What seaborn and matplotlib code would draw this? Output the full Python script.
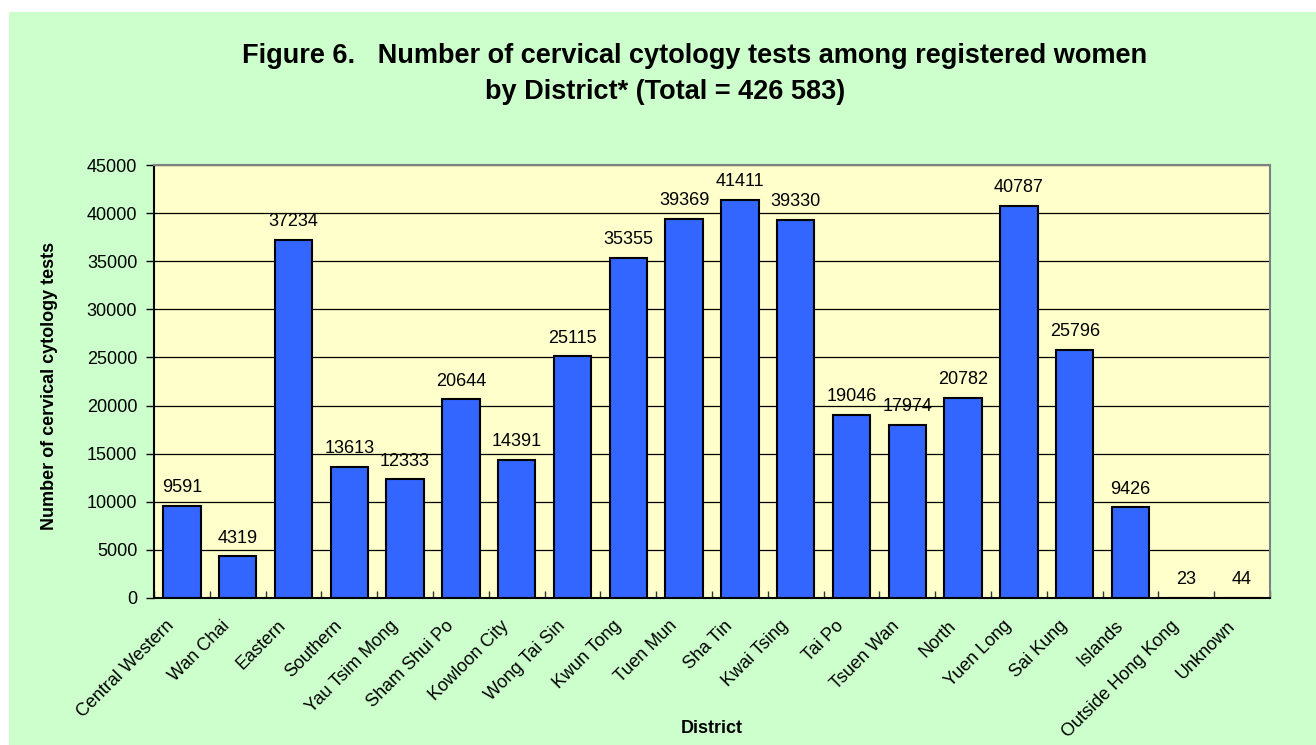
import matplotlib
matplotlib.use("Agg")
import matplotlib.pyplot as plt
import matplotlib.transforms as mtransforms
import seaborn as sns
import pandas as pd
import numpy as np
from matplotlib.patches import Rectangle

sns.set_theme(style="white")
plt.rcParams['font.family'] = ['Liberation Sans', 'DejaVu Sans']
plt.rcParams.update({'text.color': 'black', 'axes.labelcolor': 'black',
                     'xtick.color': 'black', 'ytick.color': 'black'})

# District counts
districts = ['Central Western', 'Wan Chai', 'Eastern', 'Southern', 'Yau Tsim Mong',
             'Sham Shui Po', 'Kowloon City', 'Wong Tai Sin', 'Kwun Tong', 'Tuen Mun',
             'Sha Tin', 'Kwai Tsing', 'Tai Po', 'Tsuen Wan', 'North', 'Yuen Long',
             'Sai Kung', 'Islands', 'Outside Hong Kong', 'Unknown']
tests = [9591, 4319, 37234, 13613, 12333, 20644, 14391, 25115, 35355, 39369,
         41411, 39330, 19046, 17974, 20782, 40787, 25796, 9426, 23, 44]

df = pd.DataFrame({'district': districts, 'tests': tests})

W, H = 1316, 745
fig = plt.figure(figsize=(W / 100, H / 100), dpi=100)
fig.patch.set_facecolor('white')
# green chart area with a thin white margin on top/left
fig.patches.append(Rectangle((9 / W, 0), 1 - 9 / W, 1 - 12 / H, transform=fig.transFigure,
                             facecolor='#CCFFCC', edgecolor='none', zorder=-10))

ax = fig.add_axes([154 / W, 1 - 598 / H, (1270 - 154) / W, (598 - 165) / H])
ax.set_facecolor('#FFFFCC')

sns.barplot(data=df, x='district', y='tests', color='#3366FF', saturation=1,
            edgecolor='black', linewidth=1.5, width=0.67, ax=ax, zorder=3)

ax.bar_label(ax.containers[0], fmt='%d', padding=7, fontsize=13, color='black')

ax.set_ylim(0, 45000)
ax.set_xlim(-0.5, len(districts) - 0.5)
ax.set_yticks(np.arange(0, 45001, 5000))
ax.yaxis.grid(True, color='black', linewidth=0.9, zorder=0)
ax.set_axisbelow(True)

ax.tick_params(axis='y', left=True, direction='out', length=6, width=1, labelsize=13,
               pad=6)
ax.tick_params(axis='x', which='major', bottom=False, length=0, labelsize=13, pad=14)
ax.set_xticks(np.arange(-0.5, len(districts)), minor=True)
ax.tick_params(axis='x', which='minor', bottom=True, direction='in', length=5, width=1,
               color='#333333')
shift = mtransforms.ScaledTranslation(-16 / 100, 0, fig.dpi_scale_trans)
for lab in ax.get_xticklabels():
    lab.set_rotation(45)
    lab.set_ha('right')
    lab.set_rotation_mode('anchor')
    lab.set_transform(lab.get_transform() + shift)

for s in ['left', 'bottom']:
    ax.spines[s].set_color('black')
    ax.spines[s].set_linewidth(1.5)
for s in ['top', 'right']:
    ax.spines[s].set_color('#808080')
    ax.spines[s].set_linewidth(1.5)

ax.set_xlabel('')
ax.set_ylabel('')
fig.text(712 / W, 1 - 733 / H, 'District', ha='center', va='baseline', fontsize=13,
         fontweight='bold')
fig.text(50 / W, 1 - 386 / H, 'Number of cervical cytology tests', ha='center',
         va='center', rotation=90, fontsize=13, fontweight='bold')

fig.text(695 / W, 1 - 63 / H,
         'Figure 6.   Number of cervical cytology tests among registered women',
         ha='center', va='baseline', fontsize=19.5, fontweight='bold')
fig.text(665 / W, 1 - 99 / H, 'by District* (Total = 426 583)',
         ha='center', va='baseline', fontsize=19.5, fontweight='bold')

fig.savefig('out.png', dpi=100, facecolor=fig.get_facecolor())
